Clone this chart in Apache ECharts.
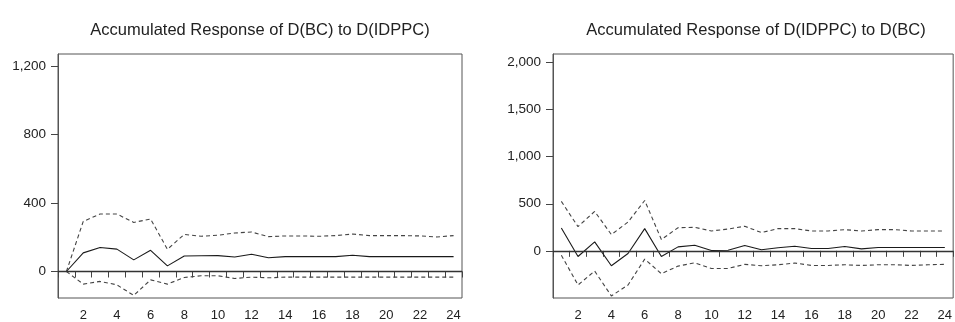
<!DOCTYPE html>
<html>
<head>
<meta charset="utf-8">
<script src="https://cdn.jsdelivr.net/npm/echarts@6/dist/echarts.min.js"></script>
<style>
html,body{margin:0;padding:0;background:#fff;}
#c{width:955px;height:322px;}
</style>
</head>
<body>
<div id="c"></div>
<script>
// Periods 1..24
const periods = Array.from({length: 24}, (_, i) => String(i + 1));

// Left: Accumulated Response of D(BC) to D(IDPPC)
const leftTitle = "Accumulated Response of D(BC) to D(IDPPC)";
const leftResp  = [0, 109, 140, 131, 68, 124, 33, 91, 92, 93, 85, 101, 80, 87, 87, 87, 87, 95, 87, 87, 87, 87, 87, 87];
const leftUpper = [0, 293, 336, 336, 287, 307, 130, 217, 206, 212, 225, 231, 204, 208, 208, 206, 210, 219, 210, 210, 210, 208, 202, 210];
const leftLower = [0, -74, -58, -78, -140, -49, -74, -35, -25, -25, -41, -33, -37, -33, -33, -33, -33, -33, -33, -33, -33, -33, -33, -33];
const leftTicks = [0, 400, 800, 1200];
const leftRange = [-155, 1272];

// Right: Accumulated Response of D(IDPPC) to D(BC)
const rightTitle = "Accumulated Response of D(IDPPC) to D(BC)";
const rightResp  = [243, -60, 95, -158, -28, 236, -60, 42, 60, 3, 7, 56, 11, 32, 49, 25, 25, 46, 21, 35, 35, 35, 35, 35];
const rightUpper = [525, 257, 419, 173, 306, 535, 120, 246, 250, 211, 232, 261, 194, 236, 236, 211, 211, 225, 211, 225, 225, 211, 211, 211];
const rightLower = [-46, -363, -215, -479, -363, -88, -243, -162, -127, -187, -187, -144, -158, -148, -130, -155, -155, -148, -155, -148, -148, -155, -148, -144];
const rightTicks = [0, 500, 1000, 1500, 2000];
const rightRange = [-501, 2091];

const FONT = "Liberation Sans, Arial, sans-serif";
const fmt = v => Number(v).toLocaleString('en-US');

function xAxisFor(gi) {
  return {
    type: 'category', gridIndex: gi, data: periods, boundaryGap: true,
    axisLine: {show: true, lineStyle: {color: '#555', width: 1}},
    axisTick: {show: true, interval: 0, length: 6, lineStyle: {color: '#444', width: 1}},
    axisLabel: {interval: (i) => i % 2 === 1, margin: 11, fontFamily: FONT, fontSize: 13, color: '#222'},
    splitLine: {show: false}
  };
}
function yAxisFor(gi, range, ticks) {
  return {
    type: 'value', gridIndex: gi, min: range[0], max: range[1],
    axisLine: {show: true, lineStyle: {color: '#555', width: 1}},
    axisTick: {show: true, length: 7, customValues: ticks, lineStyle: {color: '#444', width: 1}},
    axisLabel: {customValues: ticks, formatter: fmt, margin: 12, fontFamily: FONT, fontSize: 13.5, color: '#222'},
    splitLine: {show: false}
  };
}
function seriesFor(gi, resp, up, lo) {
  return [
    {type: 'line', xAxisIndex: gi, yAxisIndex: gi, data: resp, symbol: 'none', silent: true,
     lineStyle: {color: '#1a1a1a', width: 1.1},
     markLine: {silent: true, symbol: 'none', label: {show: false},
       lineStyle: {color: '#333', width: 1.3, type: 'solid'}, data: [{yAxis: 0}]}},
    {type: 'line', xAxisIndex: gi, yAxisIndex: gi, data: up, symbol: 'none', silent: true,
     lineStyle: {color: '#444', width: 1.1, type: [4, 3]}},
    {type: 'line', xAxisIndex: gi, yAxisIndex: gi, data: lo, symbol: 'none', silent: true,
     lineStyle: {color: '#444', width: 1.1, type: [4, 3]}}
  ];
}

const chart = echarts.init(document.getElementById('c'), null, {renderer: 'canvas'});
chart.setOption({
  animation: false,
  backgroundColor: '#fff',
  title: [
    {text: leftTitle, left: 255, top: 17, textAlign: 'center',
     textStyle: {fontFamily: FONT, fontSize: 16.5, fontWeight: 'normal', color: '#222'}},
    {text: rightTitle, left: 751, top: 17, textAlign: 'center',
     textStyle: {fontFamily: FONT, fontSize: 16.5, fontWeight: 'normal', color: '#222'}}
  ],
  grid: [
    {left: 58, top: 54, width: 404, height: 245, show: true, borderColor: '#555', borderWidth: 1, backgroundColor: 'transparent'},
    {left: 553, top: 54, width: 403, height: 245, show: true, borderColor: '#555', borderWidth: 1, backgroundColor: 'transparent'}
  ],
  xAxis: [xAxisFor(0), xAxisFor(1)],
  yAxis: [yAxisFor(0, leftRange, leftTicks), yAxisFor(1, rightRange, rightTicks)],
  series: [].concat(seriesFor(0, leftResp, leftUpper, leftLower), seriesFor(1, rightResp, rightUpper, rightLower))
});
</script>
</body>
</html>
